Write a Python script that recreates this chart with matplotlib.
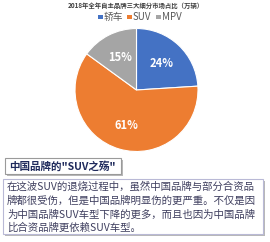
import matplotlib.pyplot as plt
from matplotlib.patches import Rectangle

plt.rcParams['font.family'] = ['Noto Sans CJK SC', 'DejaVu Sans']

title = '2018年全年自主品牌三大细分市场占比（万辆）'
categories = ['轿车', 'SUV', 'MPV']
shares = [24, 61, 15]
colors = ['#4472C4', '#ED7D31', '#A5A5A5']

header = '中国品牌的"SUV之殇"'
body_lines = [
    '在这波SUV的退烧过程中，虽然中国品牌与部分合资品',
    '牌都很受伤，但是中国品牌明显伤的更严重。不仅是因',
    '为中国品牌SUV车型下降的更多，而且也因为中国品牌',
    '比合资品牌更依赖SUV车型。',
]

W, H = 270, 242
fig = plt.figure(figsize=(W / 100, H / 100), dpi=100)
fig.patch.set_facecolor('white')


def fx(px):
    return px / W


def fy(py):
    return 1 - py / H


# pie
cx, cy, r = 136.5, 90, 61.5
ax = fig.add_axes([fx(cx - r), fy(cy + r), 2 * r / W, 2 * r / H])
wedges, _, autotexts = ax.pie(shares, colors=colors, startangle=90, counterclock=False,
                              autopct='%d%%', pctdistance=0.6,
                              wedgeprops=dict(edgecolor='white', linewidth=0.8),
                              textprops=dict(color='white', fontsize=8, fontweight='bold'))
ax.set_xlim(-1, 1)
ax.set_ylim(-1, 1)
ax.set_aspect('auto')
ax.axis('off')

# title and legend
fig.text(fx(136), fy(5.5), title, ha='center', va='center', fontsize=4.6,
         fontweight='bold', color='#404040')
leg_x = [98, 127, 156]
for x, name, c in zip(leg_x, categories, colors):
    fig.patches.append(Rectangle((fx(x), fy(19)), fx(4.5), 4.5 / H, transform=fig.transFigure,
                                 facecolor=c, edgecolor='none'))
    fig.text(fx(x + 6), fy(16.8), name, ha='left', va='center', fontsize=7, color='#595959')


def box(x0, y0, x1, y1, edge):
    # shadow then box
    fig.patches.append(Rectangle((fx(x0 + 2), fy(y1 + 2)), fx(x1 - x0), (y1 - y0) / H,
                                 transform=fig.transFigure, facecolor='#b8b8b8',
                                 edgecolor='none', zorder=1))
    fig.patches.append(Rectangle((fx(x0), fy(y1)), fx(x1 - x0), (y1 - y0) / H,
                                 transform=fig.transFigure, facecolor='white',
                                 edgecolor=edge, linewidth=0.8, zorder=2))


box(5, 158, 121, 174, '#9a9a9a')
fig.text(fx(9), fy(166), header, ha='left', va='center', fontsize=7.6,
         fontweight='bold', color='#1f2a5c', zorder=3)

box(3, 179, 263, 234, '#b9b9d6')
for i, line in enumerate(body_lines):
    fig.text(fx(7), fy(187 + i * 13.7), line, ha='left', va='center', fontsize=7.5,
             color='#3f3f5f', zorder=3)

fig.savefig('out.png', dpi=100)
